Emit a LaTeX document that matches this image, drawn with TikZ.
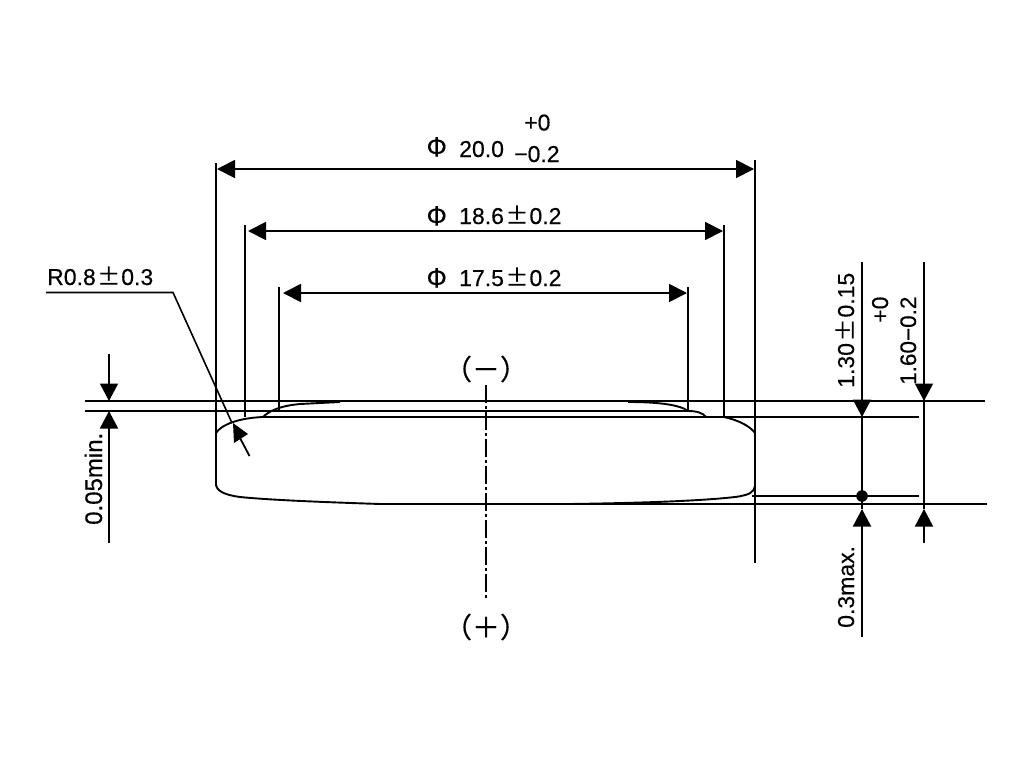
\documentclass[tikz,border=0pt]{standalone}
\usepackage{fontspec}
\setmainfont[FakeBold=0.35]{Liberation Sans}
\newfontfamily\cjk[FakeBold=0.35]{Noto Sans CJK JP}
\usetikzlibrary{arrows.meta}
\newcommand{\pmwide}{\kern1.5pt{\cjk ±}\kern1pt}
\newcommand{\phiwide}{{\cjk\fontsize{25}{25}\selectfont Φ}}
\tikzset{
  lin/.style={line width=1.8pt,black},
  outline/.style={line width=1.9pt,black,line join=round},
  dimarrow/.style={lin,{Triangle[length=18pt,width=18pt]}-{Triangle[length=18pt,width=18pt]}},
  vdown/.style={lin,-{Triangle[length=17.5pt,width=18pt]}},
  txt/.style={inner sep=0pt,anchor=base west,font=\fontsize{23}{23}\selectfont},
  vtxt/.style={txt,rotate=90},
}
\begin{document}
\begin{tikzpicture}[x=1pt,y=-1pt]
\useasboundingbox (0,0) rectangle (1024,768);
% extension lines
\draw[lin] (216,163) -- (216,486);
\draw[lin] (755,160) -- (755,563);
\draw[lin] (245,225) -- (245,417);
\draw[lin] (724,225) -- (724,417);
\draw[lin] (279,287) -- (279,411);
\draw[lin] (688,287) -- (688,411);
% horizontal reference lines
\draw[lin] (85,401) -- (985,401);
\draw[lin] (85,411) -- (688,411);
\draw[lin] (263,417) -- (919,417);
\draw[lin] (752,496) -- (919,496);
\draw[lin] (380,504) -- (987,504);
% cell outline
\draw[outline] (216,433) .. controls (221,425) and (238,418) .. (263,417)
  .. controls (268,412) and (278,406) .. (300,404) -- (340,402);
\draw[outline] (628,402) .. controls (660,402) and (680,405) .. (688,411)
  .. controls (697,411) and (703,413) .. (706,417);
\draw[outline] (724,417) .. controls (738,420) and (750,426) .. (755,433)
  -- (755,486) .. controls (754,492) and (750,495) .. (735,497)
  .. controls (700,501) and (640,503) .. (570,504) -- (380,504)
  .. controls (320,502) and (270,500) .. (240,497)
  .. controls (225,495) and (216,491) .. (216,484);
% centre line
\draw[lin,line width=1.5pt,dash pattern=on 18pt off 3pt on 3pt off 3pt] (486,385) -- (486,600);
% diameters
\draw[dimarrow] (217,169) -- (754,169);
\draw[dimarrow] (248,231) -- (723,231);
\draw[dimarrow] (283,293) -- (687,293);
% 0.05 min
\coordinate (a1) at (109,354); \coordinate (a2) at (109,401);
\coordinate (a3) at (109,543); \coordinate (a4) at (109,411);
\draw[vdown] (a1) -- (a2);
\draw[vdown] (a3) -- (a4);
% right dimensions
\coordinate (b1) at (862,262); \coordinate (b2) at (862,417);
\coordinate (b3) at (862,637); \coordinate (b4) at (862,509);
\draw[vdown] (b1) -- (b2);
\draw[lin] (b2) -- (862,509);
\draw[vdown] (b3) -- (b4);
\fill (862,496) circle (5.8pt);
\coordinate (c1) at (924,262); \coordinate (c2) at (924,401);
\coordinate (c3) at (924,543); \coordinate (c4) at (924,509);
\draw[vdown] (c1) -- (c2);
\draw[lin] (c2) -- (924,509);
\draw[vdown] (c3) -- (c4);
% R leader
\draw[lin,line width=1.6pt] (46,292.5) -- (173,292.5) -- (232,423);
\fill (233,423) -- (234,443) -- (248,434) -- cycle;
\draw[lin] (240,438) -- (249.5,456);
% texts
\node[txt] (phiA) at (426.5,156) {\phiwide};
\node[txt] (dA) at (459,157) {20.0};
\node[txt] (tolA) at (524,130.5) {+0};
\node[txt] (tolB) at (514,162) {−0.2};
\node[txt] (phiB) at (426.5,225) {\phiwide};
\node[txt] (dB) at (459,224) {18.6\pmwide 0.2};
\node[txt] (phiC) at (426.5,287) {\phiwide};
\node[txt] (dC) at (459,286) {17.5\pmwide 0.2};
\node[txt] (rad) at (47,285) {R0.8\pmwide 0.3};
\node[vtxt,font=\fontsize{24}{24}\selectfont] (t005) at (102,525) {0.05min.};
\node[vtxt] (t130) at (854,388) {1.30\pmwide 0.15};
\node[vtxt] (t03) at (854,628) {0.3max.};
\node[vtxt,font=\fontsize{22.5}{22.5}\selectfont] (t160) at (916,385) {1.60−0.2};
\node[vtxt] (t0) at (888,323) {+0};
\node[txt,anchor=center,font=\cjk\fontsize{28}{28}\selectfont] (neg) at (486,369) {（－）};
\node[txt,anchor=center,font=\cjk\fontsize{28}{28}\selectfont] (pos) at (486,627) {（＋）};
\end{tikzpicture}
\end{document}
